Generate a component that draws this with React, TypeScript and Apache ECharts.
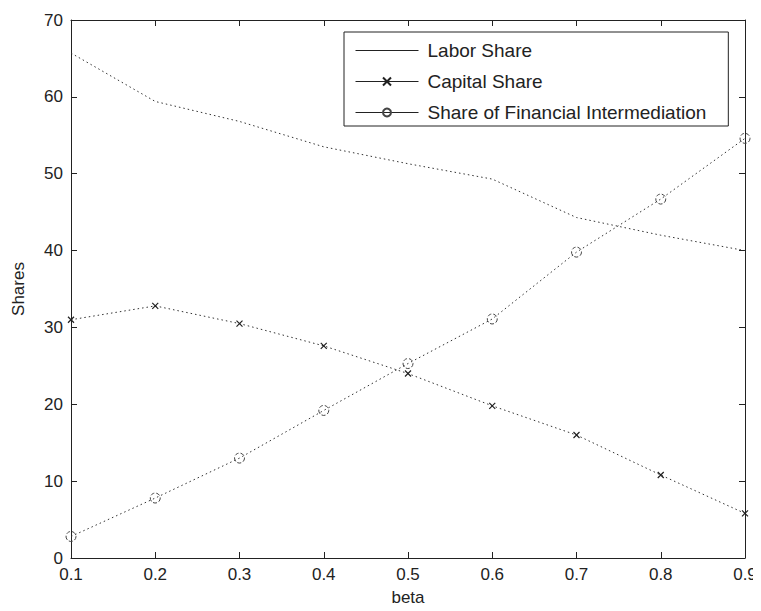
import React, { useEffect, useRef } from "react";
import * as echarts from "echarts";

const betas = [0.1, 0.2, 0.3, 0.4, 0.5, 0.6, 0.7, 0.8, 0.9];
const laborShare = [65.7, 59.4, 56.8, 53.5, 51.3, 49.3, 44.3, 42.0, 40.0];
const capitalShare = [31.0, 32.8, 30.5, 27.6, 24.0, 19.8, 16.0, 10.8, 5.8];
const financialShare = [2.8, 7.8, 13.0, 19.2, 25.3, 31.1, 39.8, 46.7, 54.6];
const seriesNames = ["Labor Share", "Capital Share", "Share of Financial Intermediation"];

const FONT = "Liberation Sans, Arial, sans-serif";
const INK = "#222";

export default function App() {
  const ref = useRef<HTMLDivElement>(null);
  useEffect(() => {
    if (!ref.current) return;
    const chart = echarts.init(ref.current, undefined, { renderer: "svg" });
    const pts = (vals: number[]) => betas.map((b, i) => [b, vals[i]]);
    const dotted = { color: "#333", width: 1, type: [1.5, 3] as any };
    const axisCommon = {
      type: "value" as const,
      axisLine: { show: true, onZero: false, lineStyle: { color: INK, width: 1 } },
      axisTick: { show: true, inside: true, length: 6, lineStyle: { color: INK } },
      splitLine: { show: false },
    };
    chart.setOption({
      animation: false,
      backgroundColor: "#fff",
      textStyle: { fontFamily: FONT },
      grid: { left: 71, right: 16, top: 20, bottom: 51, containLabel: false },
      xAxis: [
        {
          ...axisCommon,
          position: "bottom",
          min: 0.1,
          max: 0.9,
          interval: 0.1,
          name: "beta",
          nameLocation: "middle",
          nameGap: 31,
          nameTextStyle: { fontFamily: FONT, fontSize: 17, color: INK },
          axisLabel: {
            margin: 8,
            fontFamily: FONT,
            fontSize: 17,
            color: INK,
            formatter: (v: number) => v.toFixed(1),
          },
        },
        {
          ...axisCommon,
          position: "top",
          min: 0.1,
          max: 0.9,
          interval: 0.1,
          axisLabel: { show: false },
        },
      ],
      yAxis: [
        {
          ...axisCommon,
          position: "left",
          min: 0,
          max: 70,
          interval: 10,
          name: "Shares",
          nameLocation: "middle",
          nameGap: 44,
          nameTextStyle: { fontFamily: FONT, fontSize: 17, color: INK },
          axisLabel: { margin: 8, fontFamily: FONT, fontSize: 17, color: INK },
        },
        {
          ...axisCommon,
          position: "right",
          min: 0,
          max: 70,
          interval: 10,
          axisLabel: { show: false },
        },
      ],
      legend: {
        orient: "vertical",
        left: 344,
        top: 32,
        padding: [9, 22, 4, 11],
        itemWidth: 63,
        itemHeight: 10,
        itemGap: 12,
        borderColor: INK,
        borderWidth: 1,
        backgroundColor: "#fff",
        textStyle: { fontFamily: FONT, fontSize: 19, color: INK, padding: [0, 0, 0, 4] },
        lineStyle: { type: "solid", color: "#222", width: 1 },
        data: [
          { name: seriesNames[0], itemStyle: { color: "transparent", borderWidth: 0 } },
          { name: seriesNames[1] },
          { name: seriesNames[2] },
        ],
      },
      series: [
        {
          name: seriesNames[0],
          type: "line",
          data: pts(laborShare),
          symbol: "none",
          lineStyle: dotted,
          itemStyle: { color: "#333" },
        },
        {
          name: seriesNames[1],
          type: "line",
          data: pts(capitalShare),
          symbol: "path://M0,0L10,10M10,0L0,10",
          symbolSize: 6,
          lineStyle: dotted,
          itemStyle: { color: "transparent", borderColor: "#222", borderWidth: 1.2 },
        },
        {
          name: seriesNames[2],
          type: "line",
          data: pts(financialShare),
          symbol: "circle",
          symbolSize: 10,
          lineStyle: dotted,
          itemStyle: { color: "transparent", borderColor: "#444", borderWidth: 1, borderType: "dashed" },
        },
      ],
    });
    return () => chart.dispose();
  }, []);
  return <div ref={ref} style={{ width: 761, height: 611, margin: -8 }} />;
}
